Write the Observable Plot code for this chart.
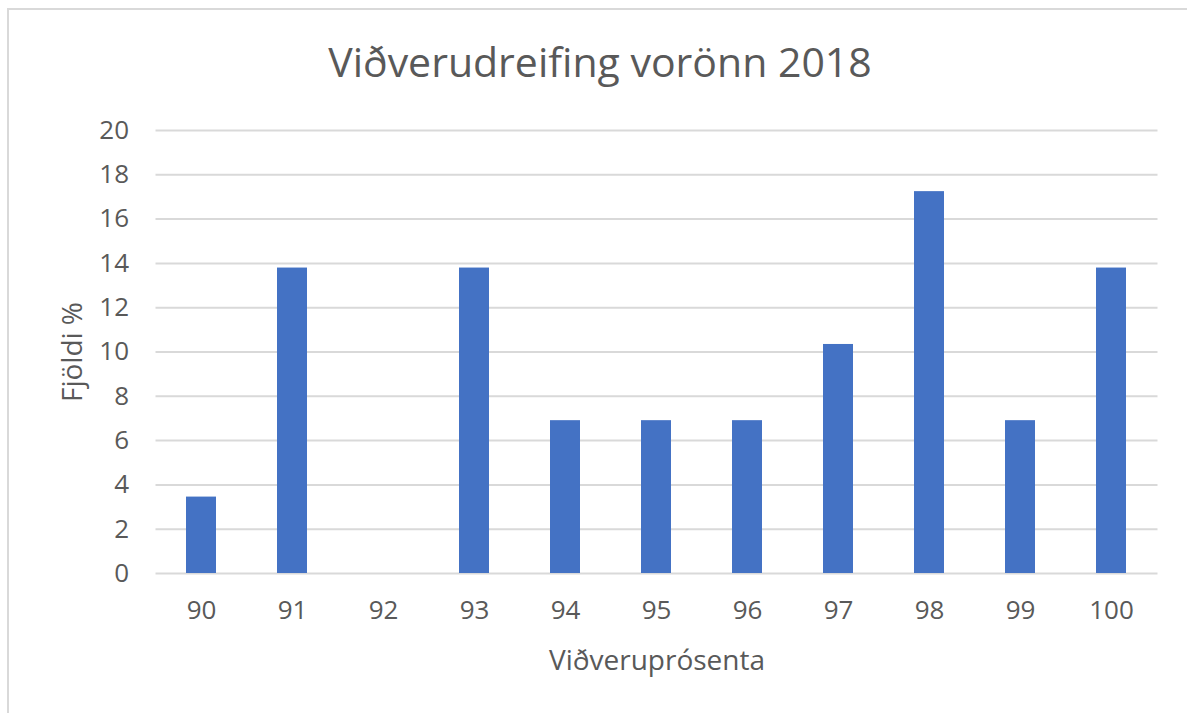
<!DOCTYPE html>
<html>
<head>
<meta charset="utf-8">
<script src="https://cdn.jsdelivr.net/npm/d3@7"></script>
<script src="https://cdn.jsdelivr.net/npm/@observablehq/plot@0.6"></script>
<style>
  html, body { margin: 0; padding: 0; background: #fff; }
  body { width: 1187px; height: 713px; position: relative; overflow: hidden; font-family: "Open Sans", sans-serif; }
  #frame { position: absolute; left: 7px; top: 8px; width: 1200px; height: 720px; border-top: 2px solid #d9d9d9; border-left: 2px solid #d9d9d9; }
  #title { position: absolute; left: 0; top: 33px; width: 1200px; text-align: center; font-size: 41px; color: #595959; }
  #chart { position: absolute; left: 0; top: 100px; }
</style>
</head>
<body>
<div id="frame"></div>
<div id="title">Viðverudreifing vorönn 2018</div>
<div id="chart"></div>
<script>
const categories = ["90", "91", "92", "93", "94", "95", "96", "97", "98", "99", "100"];
const values = [3.45, 13.79, 0, 13.79, 6.9, 6.9, 6.9, 10.34, 17.24, 6.9, 13.79];
const yTicks = [0, 2, 4, 6, 8, 10, 12, 14, 16, 18, 20];
const xLabel = "Viðveruprósenta";
const yLabel = "Fjöldi %";

const data = categories.map((c, i) => ({ cat: c, val: values[i] }));

const chart = Plot.plot({
  width: 1187,
  height: 613,
  marginLeft: 155.5,
  marginRight: 29.5,
  marginTop: 30,
  marginBottom: 140,
  style: { fontFamily: "'Open Sans', sans-serif", color: "#595959", background: "transparent" },
  x: { domain: categories, paddingInner: 0.67, paddingOuter: 0.335, align: 0.5 },
  y: { domain: [0, 20] },
  marks: [
    Plot.gridY(yTicks, { stroke: "#d9d9d9", strokeOpacity: 1, strokeWidth: 2 }),
    Plot.barY(data, { x: "cat", y: "val", fill: "#4472c4", insetLeft: 0, insetRight: 0 }),
    Plot.axisX({ tickSize: 0, tickPadding: 27, fontSize: 26, label: xLabel, labelAnchor: "center", labelOffset: 96, labelArrow: "none" }),
    Plot.axisY(yTicks, { tickSize: 0, tickPadding: 27, fontSize: 26, label: yLabel, labelAnchor: "center", labelOffset: 94, labelArrow: "none" })
  ]
});
chart.querySelectorAll("[aria-label='x-axis label'] text, [aria-label='y-axis label'] text").forEach(t => t.setAttribute("font-size", 28));
document.getElementById("chart").appendChild(chart);
</script>
</body>
</html>
